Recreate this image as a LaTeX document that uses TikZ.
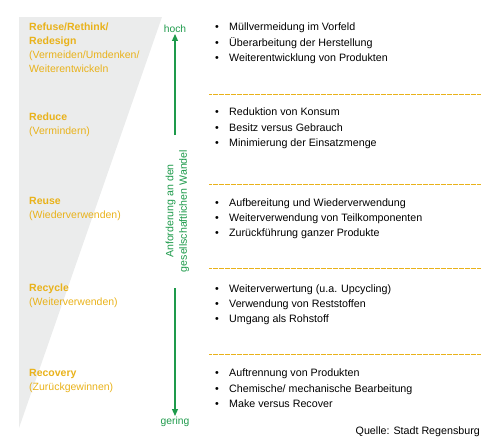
\documentclass[tikz,border=0pt]{standalone}
\usepackage{fontspec}
\setmainfont{Liberation Sans}
\usetikzlibrary{arrows.meta}
\definecolor{ylw}{HTML}{E9B21A}
\definecolor{grn}{HTML}{1E9A4B}
\definecolor{gry}{HTML}{EBECEC}
\begin{document}
\begin{tikzpicture}[x=1pt,y=-1pt,
  lvl/.style={anchor=base west,inner sep=0pt,text=ylw,font=\fontsize{10.5}{14}\selectfont,align=left},
  itm/.style={anchor=base west,inner sep=0pt,font=\fontsize{10.7}{12}\selectfont},
  sep/.style={draw=ylw,line width=0.7pt,dash pattern=on 0.5pt off 0.7pt},
  grntxt/.style={text=grn,font=\fontsize{10.3}{12}\selectfont,inner sep=1pt},
  garrow/.style={draw=grn,line width=1.2pt,-{Triangle[length=7pt,width=6pt]}}]
\useasboundingbox (0,0) rectangle (500,447);
\fill[gry] (19,17) -- (162,17) -- (19,428) -- cycle;
% levels (base = baseline of last line)
\node[lvl] (l1) at (29,72.5) {\textbf{Refuse/Rethink/}\\\textbf{Redesign}\\(Vermeiden/Umdenken/\\Weiterentwickeln};
\node[lvl] (l2) at (29,134.5) {\textbf{Reduce}\\(Vermindern)};
\node[lvl] (l3) at (29,218.5) {\textbf{Reuse}\\(Wiederverwenden)};
\node[lvl] (l4) at (29,305.5) {\textbf{Recycle}\\(Weiterverwenden)};
\node[lvl] (l5) at (29,390.5) {\textbf{Recovery}\\(Zurückgewinnen)};
% arrows
\node[grntxt] (hoch) at (175,29) {hoch};
\node[grntxt] (gering) at (175,422) {gering};
\coordinate (ua) at (175,135);
\coordinate (la) at (175,288);
\draw[garrow] (ua) -- (hoch.south);
\draw[garrow] (la) -- (gering.north);
\node[grntxt,rotate=90,align=center,font=\fontsize{10.6}{13.5}\selectfont] (anf) at (177.5,211) {Anforderung an den\\gesellschaftlichen Wandel};
% separators
\foreach \y/\n in {94/s1,184/s2,268/s3,354/s4}{
  \coordinate (\n a) at (209,\y); \coordinate (\n b) at (481,\y);
  \draw[sep] (\n a) -- (\n b);
}
% items
\newcommand\bul[1]{\makebox[14pt][l]{•}#1}
\node[itm] (i11) at (215,30) {\bul{Müllvermeidung im Vorfeld}};
\node[itm] (i12) at (215,46) {\bul{Überarbeitung der Herstellung}};
\node[itm] (i13) at (215,61) {\bul{Weiterentwicklung von Produkten}};
\node[itm] (i21) at (215,115) {\bul{Reduktion von Konsum}};
\node[itm] (i22) at (215,131) {\bul{Besitz versus Gebrauch}};
\node[itm] (i23) at (215,146) {\bul{Minimierung der Einsatzmenge}};
\node[itm] (i31) at (215,206) {\bul{Aufbereitung und Wiederverwendung}};
\node[itm] (i32) at (215,221) {\bul{Weiterverwendung von Teilkomponenten}};
\node[itm] (i33) at (215,236) {\bul{Zurückführung ganzer Produkte}};
\node[itm] (i41) at (215,292) {\bul{Weiterverwertung (u.a. Upcycling)}};
\node[itm] (i42) at (215,307) {\bul{Verwendung von Reststoffen}};
\node[itm] (i43) at (215,322) {\bul{Umgang als Rohstoff}};
\node[itm] (i51) at (215,376) {\bul{Auftrennung von Produkten}};
\node[itm] (i52) at (215,392) {\bul{Chemische/ mechanische Bearbeitung}};
\node[itm] (i53) at (215,407) {\bul{Make versus Recover}};
\node[itm,anchor=base east] (q) at (480,434) {Quelle: Stadt Regensburg};
\end{tikzpicture}
\end{document}
